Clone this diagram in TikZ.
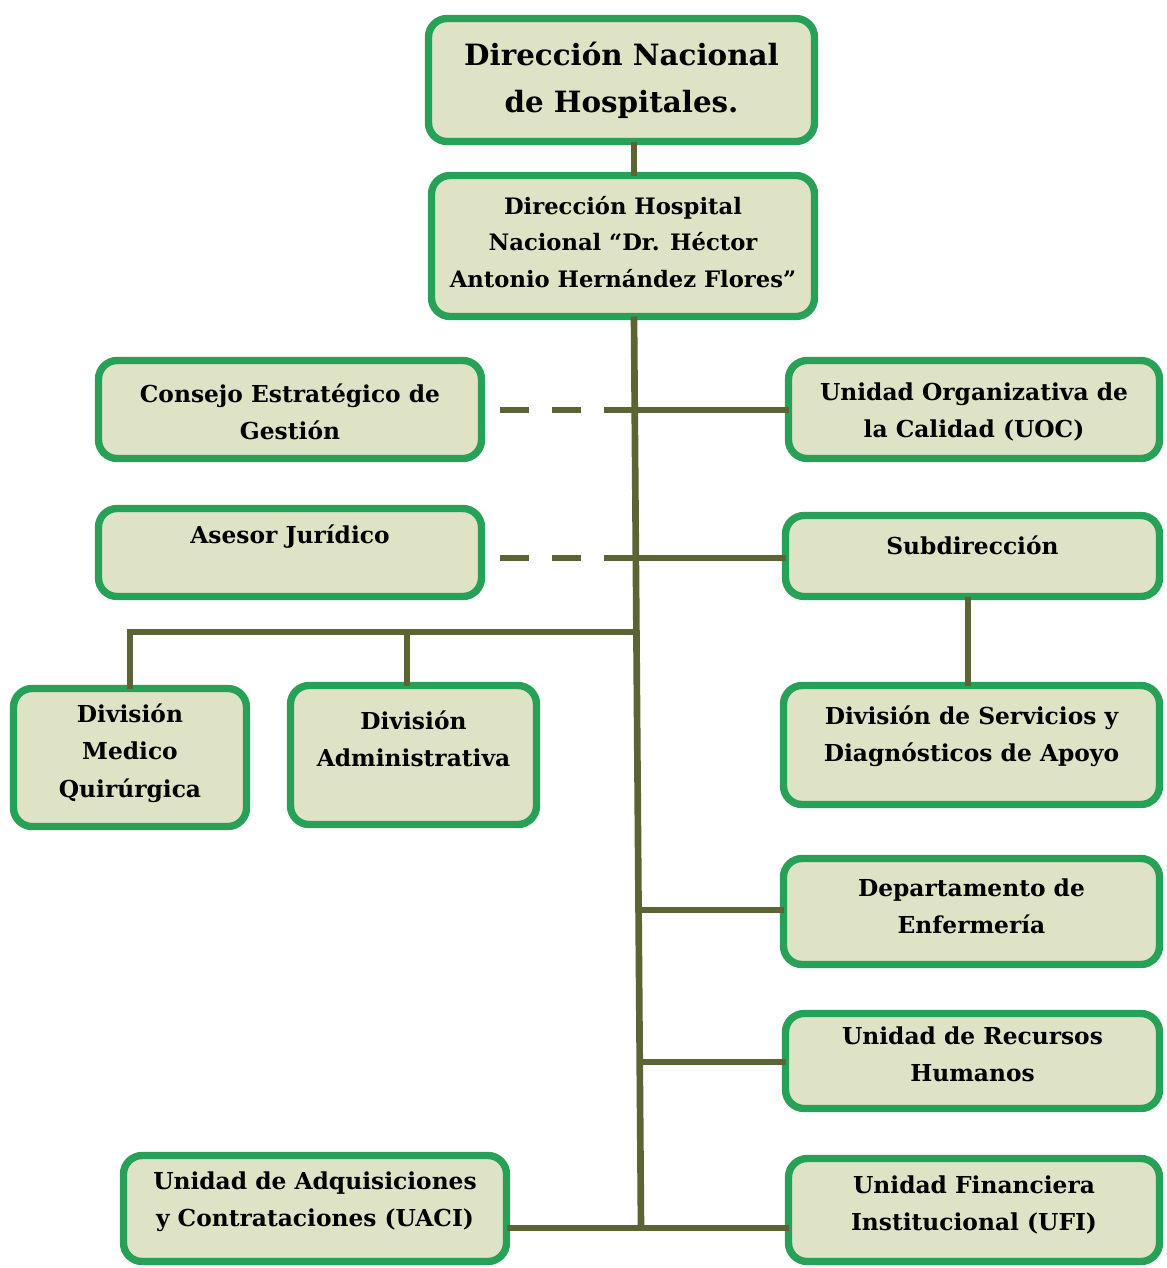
\documentclass[tikz,border=0pt]{standalone}
\usepackage{fontspec}
\setmainfont{DejaVu Serif}
\definecolor{boxfill}{HTML}{DDE3C4}
\definecolor{boxline}{HTML}{27A058}
\definecolor{boxinner}{HTML}{8FDFA8}
\definecolor{conn}{HTML}{5C6434}
\begin{document}
\begin{tikzpicture}[x=0.75pt,y=-0.75pt,
  orgbox/.style={draw=boxline,fill=boxfill,line width=5.5pt,rounded corners=14pt,inner sep=0pt,outer sep=0pt},
  txt/.style={align=center,inner sep=0pt,font=\fontsize{17.5}{28}\selectfont\bfseries},
  conline/.style={draw=conn,line width=5pt},
  dashline/.style={draw=conn,line width=5pt,dash pattern=on 22pt off 17pt}]
\useasboundingbox (0,0) rectangle (1167,1268);
\fill[white] (0,0) rectangle (1167,1268);
% boxes
\node[orgbox,minimum width=289.5pt,minimum height=92.25pt] (top) at (621.5,80) {};
\node[orgbox,minimum width=287.25pt,minimum height=105.75pt] (hosp) at (623,246) {};
\node[orgbox,minimum width=287.25pt,minimum height=73.5pt] (consejo) at (290,409.5) {};
\node[orgbox,minimum width=278.25pt,minimum height=73.5pt] (uoc) at (974,409.5) {};
\node[orgbox,minimum width=287.25pt,minimum height=66pt] (asesor) at (290,552.5) {};
\node[orgbox,minimum width=280.5pt,minimum height=60.75pt] (subdir) at (972.5,556) {};
\node[orgbox,minimum width=174.75pt,minimum height=103.5pt] (medico) at (130,757.5) {};
\node[orgbox,minimum width=184.5pt,minimum height=104.25pt] (admin) at (413.5,755) {};
\node[orgbox,minimum width=282pt,minimum height=89.25pt] (servicios) at (971.5,745) {};
\node[orgbox,minimum width=282pt,minimum height=79.5pt] (enfer) at (971.5,911.5) {};
\node[orgbox,minimum width=280.5pt,minimum height=71.25pt] (rrhh) at (972.5,1061) {};
\node[orgbox,minimum width=287.25pt,minimum height=79.5pt] (uaci) at (315,1208.5) {};
\node[orgbox,minimum width=278.25pt,minimum height=77.25pt] (ufi) at (974,1210) {};
% texts
\node[txt,font=\fontsize{22}{35}\selectfont\bfseries] (t-top) at (621.5,80) {Dirección Nacional\\de Hospitales.};
\node[txt,font=\fontsize{17}{27.5}\selectfont\bfseries] (t-hosp) at (623,242) {Dirección Hospital\\Nacional “Dr. Héctor\\Antonio Hernández Flores”};
\node[txt] (t-consejo) at (290,412) {Consejo Estratégico de\\Gestión};
\node[txt] (t-uoc) at (974,412) {Unidad Organizativa de\\la Calidad (UOC)};
\node[txt] (t-asesor) at (290,537) {Asesor Jurídico};
\node[txt] (t-subdir) at (972.5,545) {Subdirección};
\node[txt] (t-medico) at (130,753) {División\\Medico\\Quirúrgica};
\node[txt] (t-admin) at (413.5,739) {División\\Administrativa};
\node[txt] (t-servicios) at (971.5,736) {División de Servicios y\\Diagnósticos de Apoyo};
\node[txt] (t-enfer) at (971.5,906) {Departamento de\\Enfermería};
\node[txt] (t-rrhh) at (972.5,1054) {Unidad de Recursos\\Humanos};
\node[txt] (t-uaci) at (315,1202) {Unidad de Adquisiciones\\y Contrataciones (UACI)};
\node[txt] (t-ufi) at (974,1205) {Unidad Financiera\\Institucional (UFI)};
% junction coordinates
\coordinate (tx) at (634,0);
\coordinate (j1) at (634,410);
\coordinate (j2) at (635,558);
\coordinate (jL) at (635,632);
\coordinate (jE) at (638,910);
\coordinate (jR) at (639,1062);
\coordinate (bot) at (641,1228);
\coordinate (cs) at (500,410);
\coordinate (as) at (500,558);
\coordinate (admx) at (407,632);
% connectors
\draw[conline] (top.south -| tx) -- (hosp.north -| tx);
\draw[conline] (hosp.south -| tx) -- (bot);
\draw[dashline] (cs) -- (j1);
\draw[conline] (j1) -- (uoc.west |- j1);
\draw[dashline] (as) -- (j2);
\draw[conline] (j2) -- (subdir.west |- j2);
\draw[conline] (subdir.south -| 968,0) -- (servicios.north -| 968,0);
\draw[conline] (jL) -- (medico.north |- jL) -- (medico.north);
\draw[conline] (admx) -- (admx |- admin.north);
\draw[conline] (jE) -- (enfer.west |- jE);
\draw[conline] (jR) -- (rrhh.west |- jR);
\draw[conline] (uaci.east |- bot) -- (ufi.west |- bot);
\end{tikzpicture}
\end{document}
